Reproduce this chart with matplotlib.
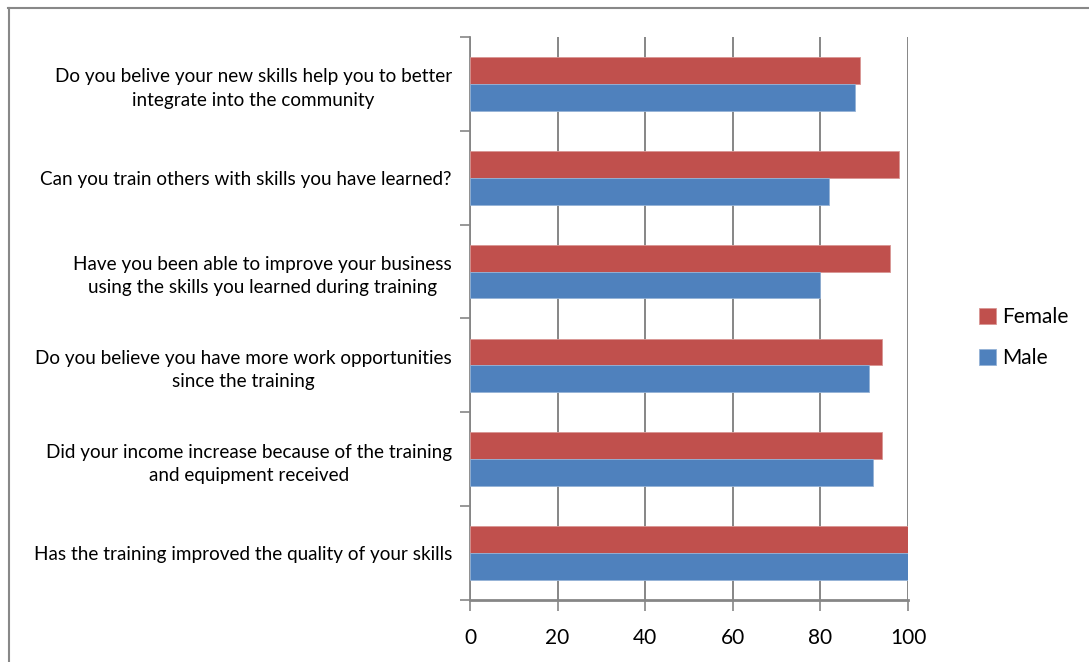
import matplotlib.pyplot as plt
import numpy as np
from matplotlib.lines import Line2D

questions = [
    'Do you belive your new skills help you to better\nintegrate into the community',
    'Can you train others with skills you have learned?',
    'Have you been able to improve your business\nusing the skills you learned during training',
    'Do you believe you have more work opportunities\nsince the training',
    'Did your income increase because of the training\nand equipment received',
    'Has the training improved the quality of your skills',
]
female = [89, 98, 96, 94, 94, 100]
male = [88, 82, 80, 91, 92, 100]

plt.rcParams['font.family'] = ['Lato', 'DejaVu Sans']

fig = plt.figure(figsize=(10.89, 6.62), dpi=100)
ax = fig.add_axes([0.4316, 0.0937, 0.4022, 0.8504])

n = len(questions)
pos = np.arange(n)[::-1]
h = 0.286
ax.barh(pos + h / 2, female, height=h, color='#C0504D', edgecolor='#D99694',
        linewidth=0.6, label='Female', zorder=3)
ax.barh(pos - h / 2, male, height=h, color='#4F81BD', edgecolor='#95B3D7',
        linewidth=0.6, label='Male', zorder=3)

ax.set_xlim(0, 100)
ax.set_ylim(-0.5, n - 0.5)
ax.set_xticks(range(0, 101, 20))
ax.tick_params(axis='x', labelsize=15, length=8, width=1.2, color='#868686', pad=12)
ax.grid(axis='x', color='#868686', linewidth=1.4, zorder=0)

ax.set_yticks(pos)
ax.set_yticklabels(questions, fontsize=13.6, multialignment='center', linespacing=1.45)
ax.tick_params(axis='y', which='major', length=0, pad=13)
ax.set_yticks(np.arange(-0.5, n, 1.0), minor=True)
ax.tick_params(axis='y', which='minor', length=7, width=1.2, color='#868686')

for side in ['top', 'right']:
    ax.spines[side].set_visible(False)
ax.spines['left'].set_color('#868686')
ax.spines['left'].set_linewidth(1.3)
ax.spines['bottom'].set_color('#868686')
ax.spines['bottom'].set_linewidth(2)

# legend, reversed so Female sits on top
hnd, lab = ax.get_legend_handles_labels()
fig.legend(hnd, lab, loc='center left', bbox_to_anchor=(0.882, 0.49),
           frameon=False, fontsize=15, handlelength=0.8, handleheight=0.8,
           handletextpad=0.3, labelspacing=1.0)

# outer chart border (top and left edges)
fig.add_artist(Line2D([8 / 1089, 1], [1 - 8 / 662, 1 - 8 / 662],
                      transform=fig.transFigure, color='#888888', lw=1.5))
fig.add_artist(Line2D([9 / 1089, 9 / 1089], [0, 1 - 8 / 662],
                      transform=fig.transFigure, color='#888888', lw=1.5))

fig.savefig('out.png', dpi=100)
